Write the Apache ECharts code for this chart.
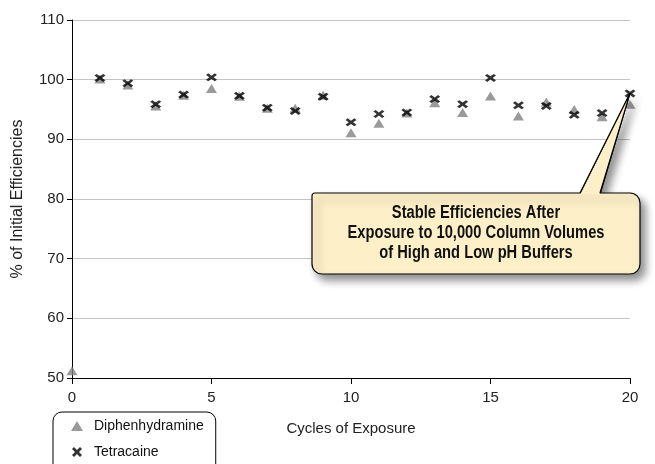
<!DOCTYPE html>
<html>
<head>
<meta charset="utf-8">
<script src="https://cdn.jsdelivr.net/npm/echarts@6/dist/echarts.min.js"></script>
<style>html,body{margin:0;padding:0;background:#fff;}#c{width:655px;height:464px;}</style>
</head>
<body>
<div id="c"></div>
<script>
const cycles = [0,1,2,3,4,5,6,7,8,9,10,11,12,13,14,15,16,17,18,19,20];
const diphenhydramine = [51.2,100.1,99.1,95.6,97.4,98.5,97.2,95.2,95.2,97.4,91.1,92.7,94.4,96.15,94.5,97.25,93.9,96.25,95.0,93.8,95.9];
const tetracaine = [null,100.3,99.4,95.9,97.5,100.4,97.3,95.3,94.75,97.15,92.85,94.25,94.5,96.75,95.9,100.3,95.7,95.6,94.1,94.4,97.7];
const xTicks = [0,5,10,15,20];
const yTicks = [50,60,70,80,90,100,110];
const calloutText = ['Stable Efficiencies After','Exposure to 10,000 Column Volumes','of High and Low pH Buffers'];

const pairs = (xs, ys) => xs.map((x,i)=> ys[i]==null ? null : [x, ys[i]]).filter(p=>p);
const xPath = 'path://M0,2L2,0L5,3L8,0L10,2L7,5L10,8L8,10L5,7L2,10L0,8L3,5Z';
const sans = "'Liberation Sans', Arial, Helvetica, sans-serif";

const chart = echarts.init(document.getElementById('c'), null, {renderer:'canvas'});
const option = {
  animation: false,
  grid: {left:72, right:25, top:20, bottom:86},
  xAxis: {
    type:'value', min:xTicks[0], max:xTicks[xTicks.length-1], interval:5,
    name:'Cycles of Exposure', nameLocation:'middle', nameGap:43,
    nameTextStyle:{fontFamily:sans, fontSize:15, color:'#222'},
    axisLine:{show:true, onZero:false, lineStyle:{color:'#000', width:1}},
    axisTick:{show:true, inside:false, length:6, lineStyle:{color:'#000'}},
    axisLabel:{fontFamily:sans, fontSize:15, color:'#222', margin:12},
    splitLine:{show:false}
  },
  yAxis: {
    type:'value', min:yTicks[0], max:yTicks[yTicks.length-1], interval:10,
    name:'% of Initial Efficiencies', nameLocation:'middle', nameGap:46,
    nameTextStyle:{fontFamily:sans, fontSize:16, color:'#222'},
    axisLine:{show:true, onZero:false, lineStyle:{color:'#000', width:1}},
    axisTick:{show:true, inside:false, length:5, lineStyle:{color:'#000'}},
    axisLabel:{fontFamily:sans, fontSize:15, color:'#222', margin:8},
    splitLine:{show:true, lineStyle:{color:'#c4c4c4', width:1}}
  },
  legend: {
    orient:'vertical', left:53, top:412, height:120, width:160,
    borderColor:'#000', borderWidth:1, borderRadius:9,
    padding:[7, 12, 30, 18], itemGap:12, itemWidth:12, itemHeight:10,
    textStyle:{fontFamily:sans, fontSize:14, color:'#111', padding:[0,0,0,6]},
    data:[{name:'Diphenhydramine', icon:'triangle'},{name:'Tetracaine', icon:xPath}]
  },
  series: [
    {name:'Diphenhydramine', type:'scatter', symbol:'triangle', symbolSize:[11,9],
     itemStyle:{color:'#818181'}, data:pairs(cycles, diphenhydramine), z:2},
    {name:'Tetracaine', type:'scatter', symbol:xPath, symbolSize:[11,8],
     itemStyle:{color:'#000'}, data:pairs(cycles, tetracaine), z:3}
  ]
};
chart.setOption(option);

const last = tetracaine.length-1;
const tip = chart.convertToPixel({gridIndex:0}, [cycles[last], tetracaine[last]]);
const x1=312, y1=193, x2=640, y2=274, b1=580, b2=600;
const fillC = '#fdf0c8';
const shadow = {shadowBlur:8, shadowOffsetX:5, shadowOffsetY:6, shadowColor:'rgba(0,0,0,0.45)'};
chart.setOption({
  graphic: [
    {type:'polygon', z:100, shape:{points:[[tip[0],tip[1]],[b1,y1+2],[b2,y1+2]]},
     style:Object.assign({fill:fillC, stroke:'#000', lineWidth:1}, shadow)},
    {type:'rect', z:101, shape:{x:x1, y:y1, width:x2-x1, height:y2-y1, r:[3,10,10,10]},
     style:Object.assign({fill:fillC, stroke:'#000', lineWidth:1.2}, shadow)},
    {type:'polygon', z:102, shape:{points:[[tip[0],tip[1]],[b1+0.5,y1+1],[b2-0.5,y1+1]]},
     style:{fill:fillC, stroke:null}},
    {type:'polyline', z:103, shape:{points:[[b1,y1],[tip[0],tip[1]],[b2,y1]]},
     style:{fill:null, stroke:'#000', lineWidth:1.2}},
    {type:'text', z:104, x:(x1+x2)/2, y:(y1+y2)/2, scaleX:0.84,
     style:{text:calloutText.join('\n'), align:'center', verticalAlign:'middle', lineHeight:20,
            font:"bold 17.5px " + sans, fill:'#111'}}
  ]
});
</script>
</body>
</html>
